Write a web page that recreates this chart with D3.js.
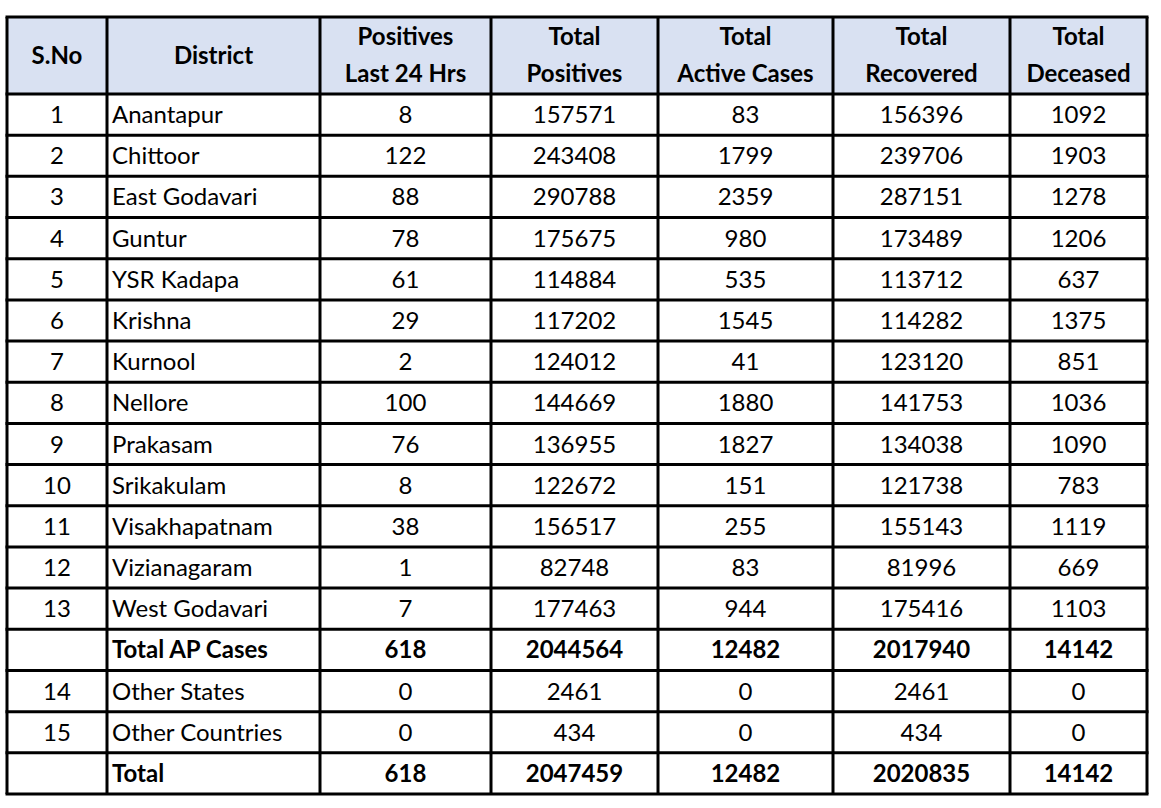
<!DOCTYPE html>
<html>
  <head>
    <meta charset="utf-8" />
    <title>AP district cases</title>
    <script src="https://d3js.org/d3.v7.min.js"></script>
    <style>
      body { margin: 0; background: #fff; }
      text { font-family: Lato, "Open Sans", sans-serif; fill: #000; }
    </style>
  </head>
  <body>
    <script>
      // table data
      const headers = [
        ["S.No"], ["District"], ["Positives", "Last 24 Hrs"], ["Total", "Positives"],
        ["Total", "Active Cases"], ["Total", "Recovered"], ["Total", "Deceased"]
      ];
      const serial = ["1","2","3","4","5","6","7","8","9","10","11","12","13","","14","15",""];
      const districts = ["Anantapur","Chittoor","East Godavari","Guntur","YSR Kadapa","Krishna",
        "Kurnool","Nellore","Prakasam","Srikakulam","Visakhapatnam","Vizianagaram",
        "West Godavari","Total AP Cases","Other States","Other Countries","Total"];
      const positives24 = [8,122,88,78,61,29,2,100,76,8,38,1,7,618,0,0,618];
      const totalPositives = [157571,243408,290788,175675,114884,117202,124012,144669,136955,122672,156517,82748,177463,2044564,2461,434,2047459];
      const activeCases = [83,1799,2359,980,535,1545,41,1880,1827,151,255,83,944,12482,0,0,12482];
      const recovered = [156396,239706,287151,173489,113712,114282,123120,141753,134038,121738,155143,81996,175416,2017940,2461,434,2020835];
      const deceased = [1092,1903,1278,1206,637,1375,851,1036,1090,783,1119,669,1103,14142,0,0,14142];
      const boldRows = ["Total AP Cases", "Total"];

      const width = 1161, height = 808;
      const colEdges = [7, 107, 320, 491, 658, 833, 1010, 1147];
      const tableTop = 17, headerBottom = 94, tableBottom = 794;
      const fontSize = 24;

      const svg = d3.select("body").append("svg")
        .attr("width", width).attr("height", height);

      const y = d3.scaleBand()
        .domain(d3.range(districts.length))
        .range([headerBottom, tableBottom]);

      // header background
      svg.append("rect")
        .attr("x", colEdges[0]).attr("y", tableTop)
        .attr("width", colEdges[7] - colEdges[0]).attr("height", headerBottom - tableTop)
        .attr("fill", "#d9e1f2");

      // header text
      headers.forEach((lines, i) => {
        const cx = (colEdges[i] + colEdges[i + 1]) / 2;
        const t = svg.append("text")
          .attr("text-anchor", "middle")
          .attr("font-weight", "bold")
          .attr("font-size", fontSize);
        if (lines.length === 1) {
          t.append("tspan").attr("x", cx).attr("y", (tableTop + headerBottom) / 2 + 8.5).text(lines[0]);
        } else {
          t.append("tspan").attr("x", cx).attr("y", tableTop + 28).text(lines[0]);
          t.append("tspan").attr("x", cx).attr("y", tableTop + 65).text(lines[1]);
        }
      });

      // body cells
      const rows = districts.map((d, i) => ({
        cells: [serial[i], d, positives24[i], totalPositives[i], activeCases[i], recovered[i], deceased[i]],
        bold: boldRows.includes(d)
      }));

      const rowG = svg.selectAll("g.row")
        .data(rows)
        .join("g")
        .attr("class", "row")
        .attr("transform", (d, i) => `translate(0,${y(i) + y.bandwidth() / 2 + 8.5})`);

      rowG.selectAll("text")
        .data(d => d.cells.map(c => ({ v: c, bold: d.bold })))
        .join("text")
        .attr("x", (d, j) => j === 1 ? colEdges[1] + 5 : (colEdges[j] + colEdges[j + 1]) / 2)
        .attr("text-anchor", (d, j) => j === 1 ? "start" : "middle")
        .attr("font-size", fontSize)
        .attr("font-weight", d => d.bold ? "bold" : "normal")
        .text(d => d.v);

      // grid lines
      const grid = svg.append("g").attr("stroke", "#000").attr("stroke-width", 3);
      colEdges.forEach(x => {
        grid.append("line").attr("x1", x).attr("x2", x).attr("y1", tableTop).attr("y2", tableBottom);
      });
      const hLines = [tableTop, headerBottom].concat(d3.range(1, districts.length).map(i => y(i)), [tableBottom]);
      hLines.forEach(yy => {
        grid.append("line")
          .attr("x1", colEdges[0] - 1.5).attr("x2", colEdges[7] + 1.5)
          .attr("y1", yy).attr("y2", yy);
      });
    </script>
  </body>
</html>
